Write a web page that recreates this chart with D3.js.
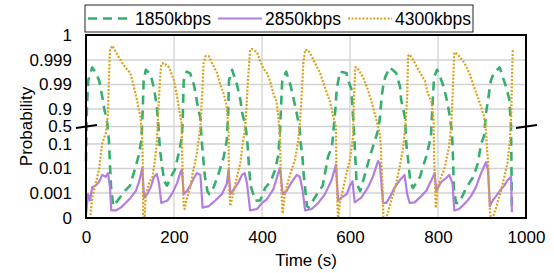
<!DOCTYPE html>
<html>
<head>
<meta charset="utf-8">
<script src="https://cdn.jsdelivr.net/npm/d3@7"></script>
<style>
  body { margin: 0; background: #fff; }
  svg { display: block; font-family: "Liberation Sans", Arial, sans-serif; }
</style>
</head>
<body>
<div id="chart"></div>
<script>
// series: [time (s), probability]
const s1850 = [[0,0.02],[2,0.9],[5,0.993],[14,0.998],[22,0.9968],[30,0.993],[37,0.968],[42,0.88],[48,0.6],[52,0.19],[55,0.009],[57,0.0016],[62,0.0003],[72,0.0005],[86,0.0011],[100,0.002],[110,0.008],[120,0.035],[126,0.2],[129,0.9],[131,0.993],[136,0.9975],[147,0.996],[154,0.987],[161,0.92],[165,0.45],[168,0.06],[173,0.012],[178,0.003],[184,0.002],[193,0.0045],[202,0.009],[211,0.044],[218,0.26],[220,0.72],[222,0.993],[229,0.997],[237,0.9965],[245,0.99],[249,0.977],[254,0.92],[260,0.69],[262,0.3],[265,0.05],[270,0.005],[276,0.0012],[280,0.0009],[290,0.0017],[302,0.0067],[313,0.03],[320,0.19],[323,0.8],[325,0.993],[332,0.9975],[343,0.99],[351,0.956],[355,0.81],[358,0.69],[364,0.4],[367,0.1],[370,0.015],[374,0.002],[385,0.0005],[396,0.0005],[407,0.0016],[420,0.003],[430,0.009],[437,0.035],[441,0.4],[443,0.9],[446,0.993],[455,0.997],[465,0.989],[472,0.96],[479,0.8],[486,0.42],[488,0.12],[492,0.03],[494,0.008],[498,0.0016],[502,0.0003],[506,0.00026],[516,0.0005],[525,0.0009],[538,0.002],[550,0.03],[559,0.076],[566,0.8],[570,0.985],[577,0.997],[592,0.9966],[596,0.993],[603,0.985],[606,0.85],[608,0.6],[610,0.2],[612,0.03],[615,0.0025],[623,0.0012],[633,0.005],[646,0.035],[657,0.19],[664,0.42],[668,0.7],[672,0.97],[676,0.99],[680,0.995],[690,0.998],[705,0.9966],[714,0.987],[716,0.96],[725,0.7],[728,0.1],[732,0.023],[737,0.003],[743,0.0016],[750,0.0025],[759,0.0045],[766,0.012],[773,0.03],[780,0.1],[784,0.3],[787,0.9],[791,0.995],[798,0.9975],[805,0.995],[811,0.99],[818,0.97],[823,0.92],[827,0.72],[830,0.5],[832,0.3],[834,0.03],[836,0.0016],[841,0.0004],[848,0.0004],[864,0.0016],[880,0.0045],[890,0.015],[898,0.1],[905,0.3],[909,0.8],[914,0.96],[920,0.993],[927,0.9966],[940,0.998],[950,0.993],[955,0.987],[962,0.96],[966,0.5],[968,0.0002]];

const s2850 = [[0,0.00013],[4.5,0.0009],[9,0.0005],[14,0.0017],[22,0.002],[29.5,0.0028],[37,0.0055],[45,0.0046],[50,0.0065],[54.5,0.0017],[57.5,0.0002],[67.5,0.0002],[79,0.00026],[90,0.0004],[101.6,0.00065],[113,0.0012],[120.5,0.0028],[128,0.0105],[132,0.00065],[139,0.0009],[147,0.0017],[154.5,0.0045],[160.7,0.006],[166,0.0025],[171,0.0004],[185,0.0005],[195,0.0009],[207,0.0025],[214,0.0065],[218,0.009],[222,0.0009],[229.5,0.0012],[237,0.002],[245,0.004],[252,0.0065],[260,0.0055],[265,0.00026],[279,0.0003],[294,0.0005],[309,0.0009],[320,0.0024],[324,0.009],[328,0.0009],[335.7,0.0014],[347,0.0028],[354.5,0.0055],[360.7,0.0065],[366,0.0024],[373,0.0002],[388.6,0.00023],[400,0.0004],[410.7,0.00055],[425.7,0.0014],[437,0.0065],[441,0.0105],[447,0.0009],[456,0.0012],[467.5,0.0028],[479,0.0055],[486,0.0046],[492.5,0.0012],[498,0.0002],[513,0.00023],[528,0.0004],[543,0.0009],[558,0.0033],[568,0.014],[573,0.0005],[581,0.00065],[592.5,0.0009],[600,0.002],[605.7,0.003],[610.7,0.00042],[625.7,0.00065],[641,0.0017],[652,0.0046],[663.6,0.02],[668,0.015],[675,0.0004],[682.5,0.0004],[690,0.00065],[701.6,0.0017],[713,0.0033],[724,0.0055],[730,0.0009],[735.7,0.0004],[747,0.00042],[762,0.00075],[773,0.0012],[785,0.0033],[792.5,0.0065],[796,0.0012],[807,0.0028],[818,0.004],[825.7,0.0055],[833,0.0024],[837,0.0002],[848,0.00023],[863.6,0.00042],[875,0.00075],[886,0.0017],[898,0.0065],[909,0.018],[913.6,0.009],[918,0.0003],[924,0.0005],[932,0.00075],[943,0.0014],[950.7,0.002],[958,0.0033],[966,0.0046],[968,0.00017]];

const s4300 = [[0,0.0001],[10,0.0001],[14,0.00065],[22,0.0025],[29.5,0.009],[37,0.12],[45,0.35],[50,0.81],[52,0.993],[54.5,0.9996],[60,0.99973],[71,0.9994],[82,0.9987],[94,0.9975],[101,0.9966],[109,0.987],[116,0.956],[120,0.88],[124,0.72],[128,0.19],[129,0.018],[130,0.00015],[133,0.0001],[136,0.0009],[143,0.0025],[151,0.0045],[156,0.018],[161,0.12],[164,0.81],[168,0.993],[171,0.9985],[177,0.9987],[189,0.998],[200,0.993],[207,0.968],[212,0.88],[217,0.58],[218,0.12],[219,0.018],[220.5,0.003],[222,0.0003],[224,0.00023],[229.5,0.00065],[237,0.0017],[242.5,0.0067],[248,0.018],[252,0.044],[256,0.19],[260,0.5],[263.5,0.968],[267.5,0.9987],[272,0.9993],[279,0.9993],[286,0.9987],[298,0.9966],[305,0.99],[313,0.976],[320,0.92],[324,0.42],[324.5,0.018],[326,0.0012],[328,0.0003],[336,0.0012],[343,0.0045],[351,0.018],[356,0.12],[361,0.42],[364,0.81],[368,0.993],[373,0.9996],[377,0.99964],[389,0.9995],[395,0.999],[403,0.9978],[411,0.9966],[418,0.993],[426,0.976],[433,0.95],[437,0.72],[441,0.27],[442,0.018],[445,0.0005],[447,0.00015],[452,0.0009],[460,0.0033],[467.5,0.009],[475,0.023],[482.5,0.19],[486,0.58],[490,0.968],[494,0.9987],[498,0.9996],[505,0.9996],[513,0.9993],[520,0.9987],[532,0.9966],[543,0.987],[554.5,0.95],[562,0.72],[568,0.5],[569,0.018],[571,0.0005],[573,0.0001],[577,0.0004],[585,0.0017],[592.5,0.0067],[600,0.023],[607,0.27],[609,0.968],[612,0.998],[616,0.998],[629.5,0.995],[641,0.983],[652,0.92],[660,0.65],[667.5,0.35],[670,0.076],[672,0.009],[674,0.0017],[676,0.0001],[682.5,0.0001],[694,0.0005],[705,0.0025],[713,0.012],[720,0.057],[725.7,0.5],[730,0.968],[732,0.9993],[736,0.9994],[747,0.9987],[758,0.997],[770,0.993],[777,0.976],[785,0.95],[790,0.65],[791,0.03],[793,0.003],[795,0.00025],[798,0.0012],[802,0.0025],[807,0.0045],[814,0.009],[818,0.018],[825,0.076],[830,0.5],[833,0.968],[837,0.9995],[839,0.9995],[848,0.9993],[860,0.9987],[871,0.9966],[882.5,0.987],[894,0.95],[905,0.72],[909,0.42],[911,0.076],[914,0.018],[916,0.0012],[918,0.0002],[920,0.0001],[924,0.0001],[932,0.00026],[943,0.0012],[950.7,0.0045],[958,0.018],[963.6,0.19],[966.6,0.81],[968,0.993],[970,0.9996]];

const seriesNames = ["1850kbps", "2850kbps", "4300kbps"];
const yTicks = [0, 0.001, 0.01, 0.1, 0.5, 0.9, 0.99, 0.999, 1];
const yTickLabels = ["0", "0.001", "0.01", "0.1", "0.5", "0.9", "0.99", "0.999", "1"];
const xTicks = [0, 200, 400, 600, 800, 1000];

const width = 554, height = 273;
const plotLeft = 86, plotRight = 526, plotTop = 35, plotBottom = 218;
const colors = ["#35ae6e", "#b27ee0", "#d9a21b"];
const dashes = ["9,6", null, "2,1.6"];
const widths = [2.6, 2.2, 2.2];

// probability -> level: log below 0.1, linear 0.1..0.9, -log(1-p) above 0.9
function level(p) {
  p = Math.max(1e-4, Math.min(1 - 1e-4, p));
  if (p < 0.1) return Math.log10(p);
  if (p > 0.9) return -Math.log10(1 - p);
  return -1 + (p - 0.1) / 0.4;
}

const x = d3.scaleLinear().domain([0, 1000]).range([plotLeft, plotRight]);
const yLevel = d3.scaleLinear()
  .domain([-4, -3, -2, -1, 0, 1, 2, 3, 4])
  .range([218, 193, 168.5, 144, 126.5, 109, 84.5, 60, 35]);
const y = p => yLevel(level(p));

const svg = d3.select("#chart").append("svg")
  .attr("width", width)
  .attr("height", height);

// grid
svg.append("g").selectAll("line")
  .data(xTicks.slice(1, -1))
  .enter().append("line")
  .attr("x1", d => x(d)).attr("x2", d => x(d))
  .attr("y1", plotTop).attr("y2", plotBottom)
  .attr("stroke", "#d2d2d2").attr("stroke-width", 1.3);

svg.append("g").selectAll("line")
  .data(yTicks.slice(1, -1))
  .enter().append("line")
  .attr("x1", plotLeft).attr("x2", plotRight)
  .attr("y1", d => y(d)).attr("y2", d => y(d))
  .attr("stroke", "#d2d2d2").attr("stroke-width", 1.3);

// lines
const line = d3.line().x(d => x(d[0])).y(d => y(d[1]));
[s1850, s2850, s4300].forEach((s, i) => {
  svg.append("path")
    .datum(s)
    .attr("fill", "none")
    .attr("stroke", colors[i])
    .attr("stroke-width", widths[i])
    .attr("stroke-dasharray", dashes[i])
    .attr("stroke-linejoin", "round")
    .attr("d", line);
});

// frame
svg.append("rect")
  .attr("x", plotLeft).attr("y", plotTop)
  .attr("width", plotRight - plotLeft).attr("height", plotBottom - plotTop)
  .attr("fill", "none").attr("stroke", "#000").attr("stroke-width", 2);

// axes
const yAxis = d3.axisLeft(yLevel)
  .tickValues(yTicks.map(level))
  .tickFormat((d, i) => yTickLabels[i])
  .tickSize(0).tickPadding(14);
const gy = svg.append("g").attr("transform", `translate(${plotLeft},0)`).call(yAxis);
gy.select(".domain").remove();
gy.selectAll("text").attr("font-size", 17).attr("fill", "#000")
  .attr("font-family", "Liberation Sans, Arial, sans-serif");

const xAxis = d3.axisBottom(x).tickValues(xTicks).tickFormat(d3.format("d"))
  .tickSize(0).tickPadding(13);
const gx = svg.append("g").attr("transform", `translate(0,${plotBottom})`).call(xAxis);
gx.select(".domain").remove();
gx.selectAll("text").attr("font-size", 17).attr("fill", "#000")
  .attr("font-family", "Liberation Sans, Arial, sans-serif");

// axis break marks at 0.5
const yb = y(0.5);
[plotLeft, plotRight].forEach(cx => {
  svg.append("line")
    .attr("x1", cx - 10).attr("y1", yb + 1.6)
    .attr("x2", cx + 11).attr("y2", yb - 1.4)
    .attr("stroke", "#000").attr("stroke-width", 2);
});

// axis titles
svg.append("text")
  .attr("x", (plotLeft + plotRight) / 2).attr("y", 266)
  .attr("text-anchor", "middle").attr("font-size", 17)
  .text("Time (s)");
svg.append("text")
  .attr("transform", `translate(32,${yb}) rotate(-90)`)
  .attr("text-anchor", "middle").attr("font-size", 17)
  .text("Probability");

// legend
const lg = svg.append("g");
lg.append("rect")
  .attr("x", 85).attr("y", 5).attr("width", 388).attr("height", 27)
  .attr("fill", "#fff").attr("stroke", "#222").attr("stroke-width", 1);
const legendX = [88, 218, 348];
seriesNames.forEach((name, i) => {
  lg.append("line")
    .attr("x1", legendX[i]).attr("x2", legendX[i] + 44)
    .attr("y1", 18.5).attr("y2", 18.5)
    .attr("stroke", colors[i])
    .attr("stroke-width", widths[i])
    .attr("stroke-dasharray", dashes[i]);
  lg.append("text")
    .attr("x", legendX[i] + 47).attr("y", 24.5)
    .attr("font-size", 17.5)
    .text(name);
});
</script>
</body>
</html>
